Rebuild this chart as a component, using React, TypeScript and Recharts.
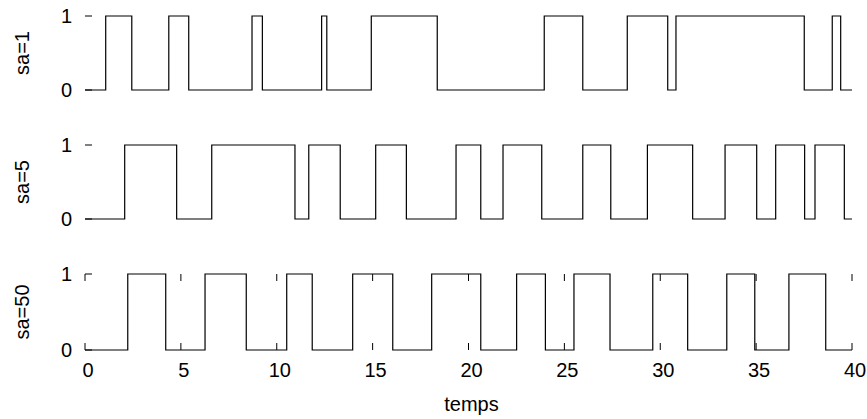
import { Line, LineChart, XAxis, YAxis } from 'recharts';

// switching times (the signal starts at 0 and flips at each time)
const sa1Switches = [1.08, 2.44, 4.37, 5.41, 8.71, 9.25, 12.34, 12.61, 14.93, 18.37, 23.95, 25.96, 28.28, 30.39, 30.82, 37.51, 38.97, 39.41];
const sa5Switches = [2.07, 4.78, 6.61, 10.95, 11.67, 13.31, 15.16, 16.76, 19.35, 20.64, 21.8, 23.82, 25.96, 27.42, 29.33, 31.69, 33.38, 35.03, 36.02, 37.53, 38.07, 39.6];
const sa50Switches = [2.23, 4.21, 6.26, 8.41, 10.52, 11.85, 13.96, 16.05, 18.08, 20.64, 22.51, 24.01, 25.5, 27.38, 29.61, 31.43, 33.47, 34.93, 36.71, 38.63];
const startValues = [0, 0, 0];
const panelNames = ['sa=1', 'sa=5', 'sa=50'];
const xTicks = [0, 5, 10, 15, 20, 25, 30, 35, 40];
const yTicks = [0, 1];
const tEnd = 40;

const font = '"Liberation Sans", Arial, sans-serif';

const toSteps = (switches: number[], start: number) => {
  const pts = [{ t: 0, v: start }];
  let v = start;
  switches.forEach((s) => {
    v = 1 - v;
    pts.push({ t: s, v });
  });
  pts.push({ t: tEnd, v });
  return pts;
};

const LeftTick = (props: any) => {
  const { x, y, payload } = props;
  return (
    <g>
      <line x1={x} x2={x + 7} y1={y} y2={y} stroke='#000' strokeWidth={1} />
      <text x={x - 13} y={y} textAnchor='end' dominantBaseline='central' fontSize={20} fontFamily={font} fill='#000'>
        {payload.value}
      </text>
    </g>
  );
};

const RightTick = (props: any) => {
  const { x, y } = props;
  return <line x1={x - 7} x2={x} y1={y} y2={y} stroke='#000' strokeWidth={1} />;
};

const TopTick = (props: any) => {
  const { x, y } = props;
  return <line x1={x} x2={x} y1={y} y2={y + 7} stroke='#000' strokeWidth={1} />;
};

const BottomTick = (props: any) => {
  const { x, y, payload } = props;
  return (
    <g>
      <line x1={x} x2={x} y1={y} y2={y - 7} stroke='#000' strokeWidth={1} />
      <text x={x + 3} y={y + 27} textAnchor='middle' fontSize={20} fontFamily={font} fill='#000'>
        {payload.value}
      </text>
    </g>
  );
};

const panels = [
  { name: panelNames[0], data: toSteps(sa1Switches, startValues[0]), top: 16, bottom: 329, last: false },
  { name: panelNames[1], data: toSteps(sa5Switches, startValues[1]), top: 145, bottom: 200, last: false },
  { name: panelNames[2], data: toSteps(sa50Switches, startValues[2]), top: 273, bottom: 0, last: true },
];

const Panel = ({ p }: { p: (typeof panels)[number] }) => (
  <div style={{ position: 'absolute', left: 0, top: 0 }}>
    <LineChart width={867} height={419} data={p.data} margin={{ top: p.top, bottom: p.bottom, left: 84, right: 14 }}>
      <XAxis
        dataKey='t'
        type='number'
        domain={[0, tEnd]}
        ticks={xTicks}
        interval={0}
        hide={!p.last}
        height={69}
        tickSize={0}
        tickMargin={0}
        axisLine={false}
        tickLine={false}
        tick={<BottomTick />}
        label={({ viewBox }: any) => (
          <text
            x={viewBox.x + viewBox.width / 2 + 3}
            y={411}
            textAnchor='middle'
            fontSize={20}
            fontFamily={font}
            fill='#000'
          >
            temps
          </text>
        )}
      />
      {p.last && (
        <XAxis
          xAxisId='top'
          orientation='top'
          dataKey='t'
          type='number'
          domain={[0, tEnd]}
          ticks={xTicks}
          interval={0}
          height={1}
          tickSize={0}
          tickMargin={0}
          axisLine={false}
          tickLine={false}
          tick={<TopTick />}
        />
      )}
      <YAxis
        yAxisId='l'
        type='number'
        domain={[0, 1]}
        ticks={yTicks}
        interval={0}
        width={1}
        tickSize={0}
        tickMargin={0}
        axisLine={false}
        tickLine={false}
        tick={<LeftTick />}
        label={({ viewBox }: any) => {
          const cy = viewBox.y + viewBox.height / 2;
          return (
            <text
              x={22}
              y={cy}
              transform={`rotate(-90, 22, ${cy})`}
              textAnchor='middle'
              dominantBaseline='central'
              fontSize={20}
              fontFamily={font}
              fill='#000'
            >
              {p.name}
            </text>
          );
        }}
      />
      <YAxis
        yAxisId='r'
        orientation='right'
        type='number'
        domain={[0, 1]}
        ticks={yTicks}
        interval={0}
        width={1}
        tickSize={0}
        tickMargin={0}
        axisLine={false}
        tickLine={false}
        tick={<RightTick />}
      />
      <Line
        yAxisId='l'
        type='stepAfter'
        dataKey='v'
        stroke='#000'
        strokeWidth={1.2}
        dot={false}
        activeDot={false}
        isAnimationActive={false}
      />
    </LineChart>
  </div>
);

const App = () => {
  return (
    <div style={{ position: 'absolute', left: 0, top: 0, width: 867, height: 419, background: '#fff' }}>
      {panels.map((p) => (
        <Panel key={p.name} p={p} />
      ))}
    </div>
  );
};

export default App;
